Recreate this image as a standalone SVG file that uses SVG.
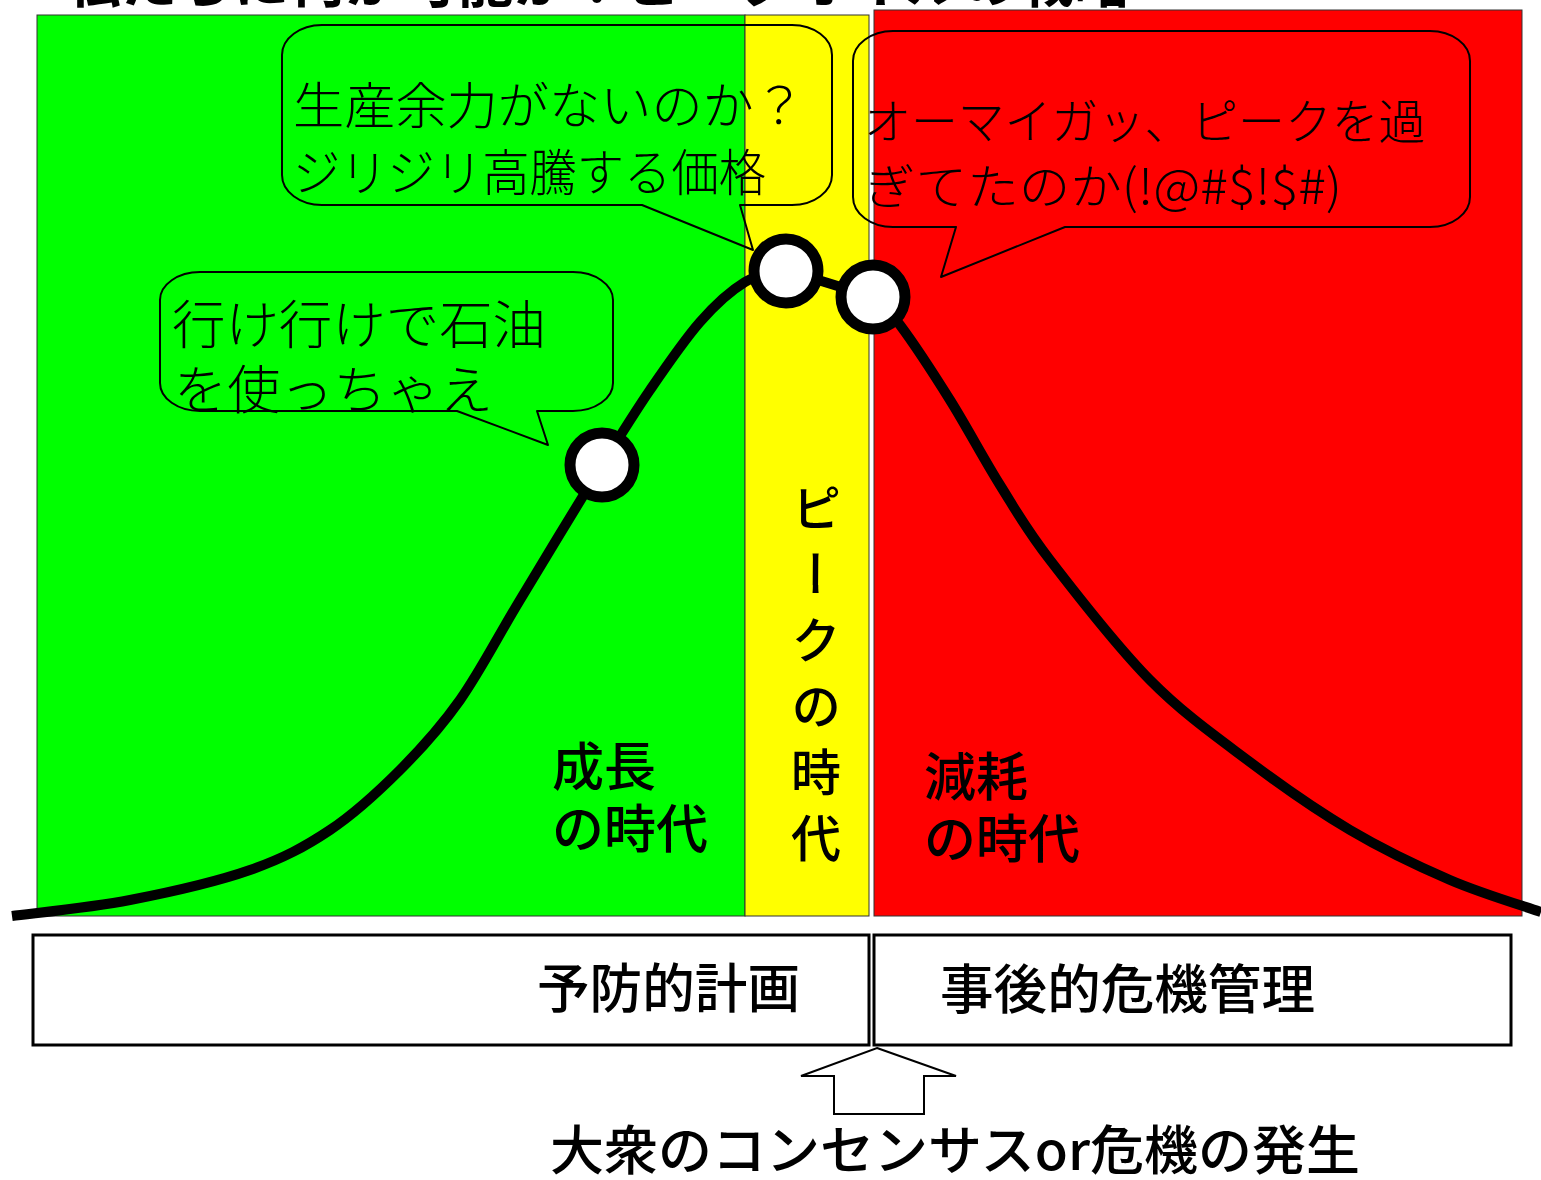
<svg xmlns="http://www.w3.org/2000/svg" width="1541" height="1180" viewBox="0 0 1541 1180">
<style>
.zone{stroke:#333;stroke-width:1}
.bubble{fill:none;stroke:#000;stroke-width:2;stroke-linejoin:round}
.bub{font-family:"Noto Sans CJK JP","Noto Sans CJK SC",sans-serif;font-weight:300;fill:#000}
.lbl{font-family:"Noto Sans CJK JP","Noto Sans CJK SC",sans-serif;font-weight:500;fill:#000}
.ttl{font-family:"Noto Sans CJK JP","Noto Sans CJK SC",sans-serif;font-weight:bold;fill:#000}
.dot{fill:#fff;stroke:#000;stroke-width:11}
.box{fill:#fff;stroke:#000;stroke-width:3}
</style>
<rect width="1541" height="1180" fill="#fff"/>
<text class="ttl" x="65" y="2" font-size="56" textLength="1065" lengthAdjust="spacingAndGlyphs">私たちに何が可能か？ピークオイルの戦略</text>
<g id="zone-growth"><rect class="zone" x="37" y="15" width="708" height="901" fill="#00ff00"/></g>
<g id="zone-peak"><rect class="zone" x="745" y="15" width="124" height="901" fill="#ffff00"/></g>
<g id="zone-decline"><rect class="zone" x="874" y="10" width="648" height="906" fill="#ff0000"/></g>
<g id="bubble-price">
<path class="bubble" d="M322,25 H792 A40,30 0 0 1 832,55 V175 A40,30 0 0 1 792,205 H740 L753,250 L642,205 H322 A40,30 0 0 1 282,175 V55 A40,30 0 0 1 322,25 Z"/>
<text class="bub" x="293" y="124" font-size="50" textLength="512" lengthAdjust="spacingAndGlyphs">生産余力がないのか？</text>
<text class="bub" x="293" y="191" font-size="50" textLength="473" lengthAdjust="spacingAndGlyphs">ジリジリ高騰する価格</text>
</g>
<g id="bubble-omg">
<path class="bubble" d="M893,31 H1430 A40,30 0 0 1 1470,61 V197 A40,30 0 0 1 1430,227 H1065 L941,277 L956,227 H893 A40,30 0 0 1 853,197 V61 A40,30 0 0 1 893,31 Z"/>
<text class="bub" x="864" y="139" font-size="48" textLength="561" lengthAdjust="spacingAndGlyphs">オーマイガッ、ピークを過</text>
<text class="bub" x="864" y="204" font-size="48" textLength="478" lengthAdjust="spacingAndGlyphs">ぎてたのか(!@#$!$#)</text>
</g>
<g id="bubble-goahead">
<path class="bubble" d="M200,272 H573 A40,28 0 0 1 613,300 V383 A40,28 0 0 1 573,411 H537 L548,445 L457,411 H200 A40,28 0 0 1 160,383 V300 A40,28 0 0 1 200,272 Z"/>
<text class="bub" x="172" y="344" font-size="52" textLength="374" lengthAdjust="spacingAndGlyphs">行け行けで石油</text>
<text class="bub" x="174" y="409" font-size="52" textLength="319" lengthAdjust="spacingAndGlyphs">を使っちゃえ</text>
</g>
<g id="connectors">
<path d="M12,916 C31.7,913.3 90.3,907.7 130,900 C169.7,892.3 216.7,881.7 250,870 C283.3,858.3 305,846.7 330,830 C355,813.3 378.3,791.7 400,770 C421.7,748.3 440,728.3 460,700 C480,671.7 496.3,639.2 520,600 C543.7,560.8 580.3,500 602,465 C623.7,430 633.7,413.8 650,390 C666.3,366.2 684.2,340 700,322 C715.8,304 730.7,290.7 745,282 C759.3,273.3 779.2,272 786,270 L873,297 C877.5,301.7 887.2,307.8 900,325 C912.8,342.2 933.3,373.3 950,400 C966.7,426.7 983.3,458.3 1000,485 C1016.7,511.7 1025,527.5 1050,560 C1075,592.5 1116.7,646.3 1150,680 C1183.3,713.7 1216.7,737 1250,762 C1283.3,787 1316.7,810.3 1350,830 C1383.3,849.7 1418.2,866.3 1450,880 C1481.8,893.7 1525.8,906.7 1541,912" fill="none" stroke="#000" stroke-width="10" stroke-linejoin="round"/>
</g>
<g id="point-growth"><circle class="dot" cx="602" cy="465" r="32"/></g>
<g id="point-peak1"><circle class="dot" cx="786" cy="271" r="32"/></g>
<g id="point-peak2"><circle class="dot" cx="873" cy="297" r="32"/></g>
<g id="label-growth">
<text class="lbl" x="552" y="786" font-size="52">成長</text>
<text class="lbl" x="552" y="848" font-size="52">の時代</text>
</g>
<g id="label-peak">
<text class="lbl" x="816" y="483" font-size="50" writing-mode="vertical-rl" letter-spacing="16">ピークの時代</text>
</g>
<g id="label-decline">
<text class="lbl" x="924" y="796" font-size="52">減耗</text>
<text class="lbl" x="924" y="858" font-size="52">の時代</text>
</g>
<g id="box-prevent">
<rect class="box" x="33" y="935" width="836" height="110"/>
<text class="lbl" x="537" y="1008" font-size="53" textLength="263" lengthAdjust="spacingAndGlyphs">予防的計画</text>
</g>
<g id="box-crisis">
<rect class="box" x="874" y="935" width="637" height="110"/>
<text class="lbl" x="940" y="1009" font-size="53" textLength="375" lengthAdjust="spacingAndGlyphs">事後的危機管理</text>
</g>
<g id="arrow-trigger">
<polygon points="877,1048 956,1076 924,1076 924,1114 834,1114 834,1076 801,1076" fill="#fff" stroke="#000" stroke-width="2"/>
<text class="lbl" x="550" y="1170" font-size="53" textLength="810" lengthAdjust="spacingAndGlyphs">大衆のコンセンサスor危機の発生</text>
</g>
</svg>
